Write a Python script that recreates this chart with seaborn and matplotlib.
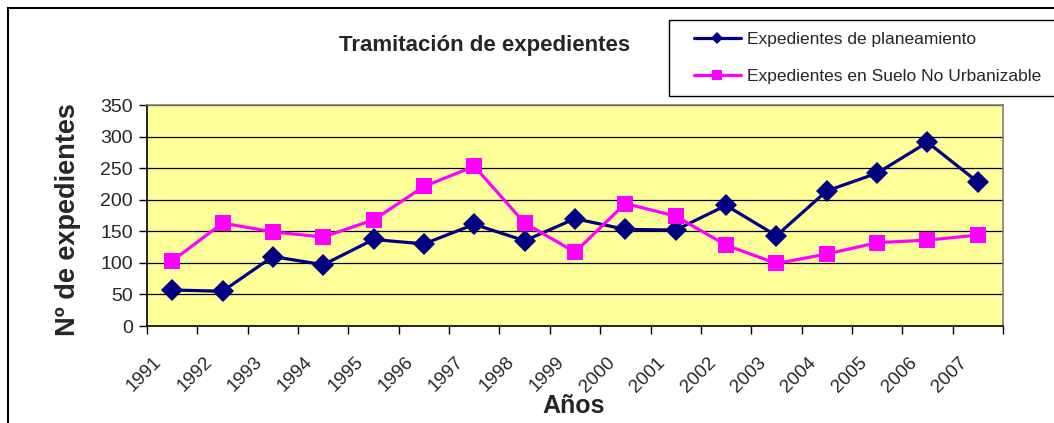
import matplotlib
matplotlib.use("Agg")
import matplotlib.pyplot as plt
import matplotlib.patches as mpatches
import matplotlib.transforms as mtransforms
from matplotlib.lines import Line2D
import seaborn as sns
import pandas as pd

years = ["1991", "1992", "1993", "1994", "1995", "1996", "1997", "1998", "1999",
         "2000", "2001", "2002", "2003", "2004", "2005", "2006", "2007"]
planeamiento = [57, 55, 110, 97, 137, 130, 161, 135, 170, 153, 152, 191, 143, 214, 242, 291, 228]
suelo_no_urb = [103, 163, 149, 141, 168, 221, 253, 163, 117, 194, 174, 128, 99, 114, 132, 136, 144]
series_names = ["Expedientes de planeamiento", "Expedientes en Suelo No Urbanizable"]
y_ticks = [0, 50, 100, 150, 200, 250, 300, 350]

sns.set_theme(style="white")
plt.rcParams['font.family'] = ['Liberation Sans', 'DejaVu Sans']

df = pd.DataFrame({
    "year": years * 2,
    "value": planeamiento + suelo_no_urb,
    "serie": [series_names[0]] * len(years) + [series_names[1]] * len(years),
})

fig = plt.figure(figsize=(10.54, 4.23), dpi=100)
ax = fig.add_axes([147 / 1054, 1 - 326 / 423, (1003 - 147) / 1054, (326 - 105) / 423])
ax.set_facecolor("#FFFF99")

colors = {series_names[0]: "#000080", series_names[1]: "#FF00FF"}
markers = {series_names[0]: "D", series_names[1]: "s"}
sns.lineplot(data=df, x="year", y="value", hue="serie", style="serie",
             palette=colors, markers=markers, dashes=False, linewidth=2.3,
             markersize=11, markeredgewidth=0, ax=ax, legend=False, sort=False)

ax.set_xlim(-0.5, len(years) - 0.5)
ax.set_ylim(0, 350)
ax.set_yticks(y_ticks)
ax.set_yticklabels([str(v) for v in y_ticks], fontsize=14)
ax.yaxis.grid(True, color="black", linewidth=0.9)
ax.set_axisbelow(True)

ax.set_xticks(range(len(years)))
ax.set_xticklabels(years, rotation=45, ha="right", va="top", fontsize=13.5)
ax.set_xticks([i - 0.5 for i in range(len(years) + 1)], minor=True)
ax.tick_params(axis="x", which="major", length=0, pad=20)
ax.tick_params(axis="x", which="minor", length=6, width=1, color="black", direction="out", bottom=True)
ax.tick_params(axis="y", which="major", length=6, width=1, color="black", direction="out", left=True, pad=4)
offset = mtransforms.ScaledTranslation(-7 / 100, 0, fig.dpi_scale_trans)
for lbl in ax.get_xticklabels():
    lbl.set_transform(lbl.get_transform() + offset)
ax.set_xlabel("")
ax.set_ylabel("")

for side in ["top", "right"]:
    ax.spines[side].set_color("#808080")
    ax.spines[side].set_linewidth(1.2)
for side in ["left", "bottom"]:
    ax.spines[side].set_color("black")
    ax.spines[side].set_linewidth(1.2)

fig.text(485 / 1054, 1 - 45 / 423, "Tramitación de expedientes", fontsize=16,
         fontweight="bold", ha="center", va="center")
fig.text(68 / 1054, 1 - 220 / 423, "Nº de expedientes", fontsize=19.5,
         fontweight="bold", ha="center", va="center", rotation=90)
fig.text(574 / 1054, 1 - 406 / 423, "Años", fontsize=18,
         fontweight="bold", ha="center", va="center")

# legend frame (extends past the right edge, as in the original)
fig.patches.append(mpatches.Rectangle((669 / 1054, 1 - 96 / 423), 0.5, 76 / 423, fill=True,
                                      facecolor="white", edgecolor="black", linewidth=1.0,
                                      transform=fig.transFigure, figure=fig))
handles = [Line2D([0], [0], color=colors[n], marker=markers[n], linewidth=2.3,
                  markersize=6.5, markeredgewidth=0) for n in series_names]
leg = fig.legend(handles, series_names, loc="center left",
                 bbox_to_anchor=(694 / 1054, 1 - 58 / 423), fontsize=12.5,
                 frameon=False, handlelength=2.7, handletextpad=0.35,
                 labelspacing=1.25, borderpad=0, borderaxespad=0)

fig.patches.append(mpatches.Rectangle((8 / 1054, -0.2), 2, 1.2 - 8 / 423, fill=False,
                                      edgecolor="black", linewidth=1.5,
                                      transform=fig.transFigure, figure=fig))

fig.savefig("out.png", dpi=100, facecolor="white")
